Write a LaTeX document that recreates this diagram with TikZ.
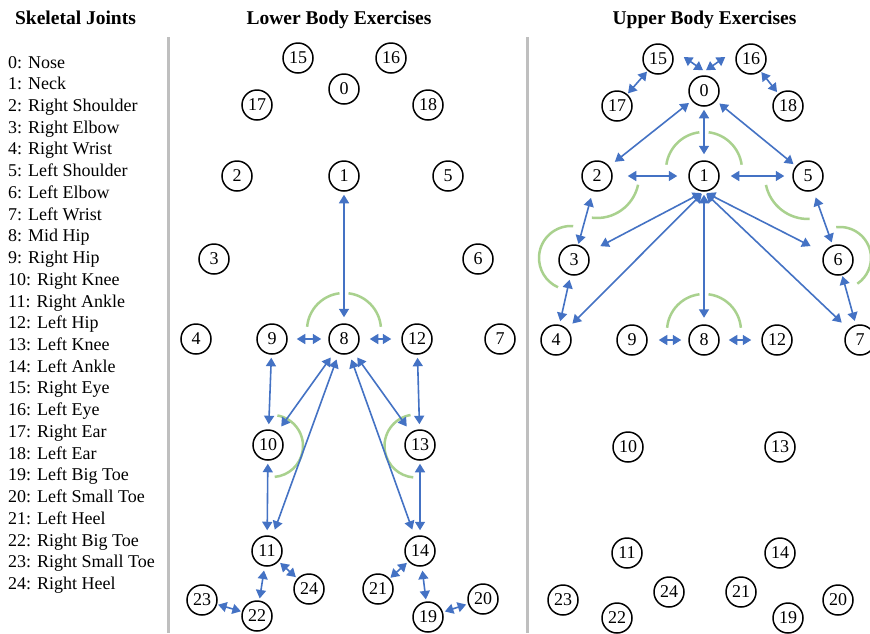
\documentclass[tikz,border=0pt]{standalone}
\usepackage{fontspec}
\setmainfont{Liberation Serif}
\usetikzlibrary{arrows.meta}
\definecolor{bl}{HTML}{4472C4}
\definecolor{gr}{HTML}{A9D18E}
\definecolor{sepc}{HTML}{BFBFBF}
\begin{document}
\begin{tikzpicture}[x=1pt,y=1pt,
 jt/.style={circle,draw,line width=1.5pt,minimum size=30pt,inner sep=0pt,font=\fontsize{18}{18}\selectfont},
 ln/.style={draw=bl,line width=1.6pt,{Triangle[length=8.5pt 0 0,width=10pt 0 0]}-{Triangle[length=8.5pt 0 0,width=10pt 0 0]},shorten <=3pt,shorten >=3pt},
 ang/.style={draw=gr,line width=2.5pt},
 hd/.style={anchor=base,inner sep=0pt,font=\fontsize{19.5}{20}\bfseries\selectfont},
 item/.style={anchor=base west,inner sep=0pt,font=\fontsize{18}{20}\selectfont}]
\useasboundingbox (0,0) rectangle (870,-633);
\fill[white] (0,0) rectangle (870,-633);
% separators
\draw[sepc,line width=3pt] (168.5,-37) -- (168.5,-633);
\draw[sepc,line width=3pt] (527,-37) -- (527,-633);
% headings
\node[hd] (h1) at (75.5,-24) {Skeletal Joints};
\node[hd] (h2) at (339,-24) {Lower Body Exercises};
\node[hd] (h3) at (704.5,-24) {Upper Body Exercises};
% list
\foreach \t [count=\i from 0] in {0: Nose,1: Neck,2: Right Shoulder,3: Right Elbow,4: Right Wrist,5: Left Shoulder,6: Left Elbow,7: Left Wrist,8: Mid Hip,9: Right Hip,10: Right Knee,11: Right Ankle,12: Left Hip,13: Left Knee,14: Left Ankle,15: Right Eye,16: Left Eye,17: Right Ear,18: Left Ear,19: Left Big Toe,20: Left Small Toe,21: Left Heel,22: Right Big Toe,23: Right Small Toe,24: Right Heel}
  \node[item] (it\i) at (8,{-68-\i*21.73}) {\t};
% lower body joints
\foreach \n/\x/\y in {0/344/89,1/344/176,2/237/176,3/214/259,4/196/339,5/448/176,6/478/259,7/500/339,8/344/339,9/272/339,10/268/445,11/267/551,12/417/339,13/420/445,14/420/551,15/298/58,16/391/58,17/257/105,18/428/105,19/428/617,20/483/599,21/378/589,22/257/616,23/202/600,24/309/589}
  \node[jt] (L\n) at (\x,-\y) {\n};
% upper body joints
\foreach \n/\x/\y in {0/704/91,1/704/176,2/597/176,3/574/260,4/556/340,5/808/176,6/838/260,7/860/340,8/704/340,9/632/340,10/628/447,11/627/553,12/777/340,13/780/447,14/780/553,15/658/59,16/751/59,17/617/106,18/788/106,19/788/618,20/838/600,21/741/592,22/617/618,23/563/600,24/669/592}
  \node[jt] (U\n) at (\x,-\y) {\n};
% lower angle arcs
\draw[ang] ([yshift=9pt]L8.center) ++(175:37) arc[start angle=175,end angle=97,radius=37];
\draw[ang] ([yshift=9pt]L8.center) ++(83:37) arc[start angle=83,end angle=5,radius=37];
\draw[ang] ([xshift=4pt,yshift=-1pt]L10.center) ++(80:31) arc[start angle=80,end angle=-85,radius=31];
\draw[ang] ([xshift=-4pt,yshift=-1pt]L13.center) ++(100:31.5) arc[start angle=100,end angle=265,radius=31.5];
% upper angle arcs
\draw[ang] ([yshift=6pt]U1.center) ++(172:38) arc[start angle=172,end angle=97,radius=38];
\draw[ang] ([yshift=6pt]U1.center) ++(83:38) arc[start angle=83,end angle=8,radius=38];
\draw[ang] (U2.center) ++(-12:42) arc[start angle=-12,end angle=-97,radius=42];
\draw[ang] ([xshift=-3pt,yshift=2pt]U3.center) ++(86:32) arc[start angle=86,end angle=246,radius=32];
\draw[ang] (U5.center) ++(192:43) arc[start angle=192,end angle=272,radius=43];
\draw[ang] ([xshift=2pt,yshift=2pt]U6.center) ++(97:31) arc[start angle=97,end angle=-56,radius=31];
\draw[ang] ([yshift=9pt]U8.center) ++(175:37) arc[start angle=175,end angle=97,radius=37];
\draw[ang] ([yshift=9pt]U8.center) ++(83:37) arc[start angle=83,end angle=5,radius=37];
% lower edges
\draw[ln,shorten >=6pt] (L1) -- (L8);
\draw[ln,shorten <=9pt,shorten >=7pt] (L9) -- (L8);
\draw[ln,shorten <=10pt,shorten >=10pt] (L8) -- (L12);
\draw[ln,shorten >=5pt] (L9) -- (L10);
\draw[ln,shorten <=7pt,shorten >=7pt] (L8) -- (L10);
\draw[ln,shorten <=6pt,shorten >=7pt] (L8) -- (L11);
\draw[ln,shorten <=7pt,shorten >=7pt] (L8) -- (L13);
\draw[ln,shorten <=6pt,shorten >=7pt] (L8) -- (L14);
\draw[ln,shorten >=5pt] (L12) -- (L13);
\draw[ln,shorten >=5pt] (L10) -- (L11);
\draw[ln,shorten >=5pt] (L13) -- (L14);
\draw[ln,shorten <=2pt,shorten >=2pt] (L11) -- (L24);
\draw[ln,shorten <=4pt,shorten >=2pt] (L11) -- (L22);
\draw[ln,shorten <=1pt,shorten >=1pt] (L22) -- (L23);
\draw[ln,shorten <=2pt,shorten >=1pt] (L14) -- (L21);
\draw[ln,shorten <=4pt,shorten >=2pt] (L14) -- (L19);
\draw[ln,shorten <=2pt,shorten >=2pt] (L19) -- (L20);
% upper edges
\draw[ln,shorten <=0pt,shorten >=0pt] ([xshift=10pt,yshift=2pt]U15.east) -- ([xshift=-1pt,yshift=5pt]U0.north);
\draw[ln,shorten <=0pt,shorten >=0pt] ([xshift=-10pt,yshift=2pt]U16.west) -- ([xshift=2pt,yshift=5pt]U0.north);
\draw[ln,shorten <=1pt,shorten >=1pt] (U15) -- (U17);
\draw[ln,shorten <=1pt,shorten >=2pt] (U16) -- (U18);
\draw[ln,shorten <=3.5pt,shorten >=7pt] (U0) -- (U2);
\draw[ln,shorten <=4pt,shorten >=3pt] (U0) -- (U5);
\draw[ln,shorten <=3pt,shorten >=6pt] (U0) -- (U1);
\draw[ln,shorten <=15pt,shorten >=11pt] (U2) -- (U1);
\draw[ln,shorten <=11pt,shorten >=8pt] (U1) -- (U5);
\draw[ln,shorten <=7pt,shorten >=1pt] (U2) -- (U3);
\draw[ln,shorten <=4.5pt,shorten >=3.5pt] (U3) -- (U4);
\draw[ln,shorten <=7pt,shorten >=3pt] (U5) -- (U6);
\draw[ln,shorten <=1pt,shorten >=4pt] (U6) -- (U7);
\draw[ln,shorten <=3pt,shorten >=14pt] (U1.south) -- (U3);
\draw[ln,shorten <=3pt,shorten >=7.5pt] (U1.south) -- (U4);
\draw[ln,shorten <=3pt,shorten >=6.5pt] (U1.south) -- (U8);
\draw[ln,shorten <=3pt,shorten >=15pt] (U1.south) -- (U6);
\draw[ln,shorten <=3pt,shorten >=9.5pt] (U1.south) -- (U7);
\draw[ln,shorten <=11pt,shorten >=7pt] (U9) -- (U8);
\draw[ln,shorten <=9pt,shorten >=10pt] (U8) -- (U12);
\end{tikzpicture}
\end{document}
